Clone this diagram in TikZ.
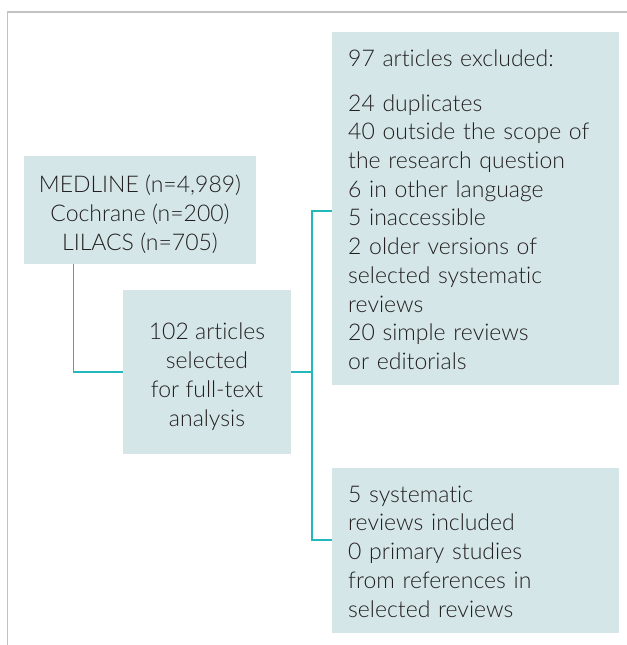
\documentclass[tikz,border=0pt]{standalone}
\usepackage{fontspec}
\setmainfont{Lato}[UprightFont={* Light}, Ligatures=NoCommon]
\usepackage{tikz}
\usetikzlibrary{positioning,calc}
\definecolor{ink}{HTML}{231F20}
\definecolor{tealine}{HTML}{22B8BC}
\definecolor{boxfill}{HTML}{D4E6E8}
\definecolor{framegray}{HTML}{C2C2C2}
\newcommand{\topgap}{\rule{0pt}{22bp}}
\newcommand{\midgap}{\rule{0pt}{26bp}}
\newcommand{\lastgap}{\rule[-4bp]{0pt}{4bp}}

\begin{document}
\begin{tikzpicture}[x=1bp,y=-1bp,
    every node/.style={font=\fontsize{23bp}{28.7bp}\selectfont},
    box/.style={fill=boxfill, text=ink, inner sep=0pt, align=center},
    listbox/.style={fill=boxfill, text=ink, inner xsep=16bp, inner ysep=12bp,
      text width=255bp, align=left, anchor=north west},
    link/.style={draw=tealine, line width=1.2bp},
    frame/.style={draw=framegray, line width=1.3bp}]
  \useasboundingbox (0,0) rectangle (627,645);
  \draw[frame] (627,12) -- (7.5,12) -- (7.5,645);

  \node[box, minimum width=232bp, minimum height=108bp] (sources) at (140,210)
    {\midgap MEDLINE (n=4,989)\\Cochrane (n=200)\\LILACS (n=705)};
  \node[box, minimum width=168bp, minimum height=164bp] (fulltext) at (207,372)
    {\midgap 102 articles\\selected\\for full-text\\analysis};
  \node[listbox] (excluded) at (332,32)
    {\topgap 97 articles excluded:\\[16.25bp]
     24 duplicates\\
     40 outside the scope of\\
     the research question\\
     6 in other language\\
     5 inaccessible\\
     2 older versions of\\
     selected systematic\\
     reviews\\
     20 simple reviews\\
     or editorials\lastgap};
  \node[listbox] (included) at (332,468)
    {\topgap 5 systematic\\
     reviews included\\
     0 primary studies\\
     from references in\\
     selected reviews\lastgap};

  % connectors
  \coordinate (split) at (312,372);
  \draw[link] ($(sources.south west)+(50,0)$) |- (fulltext.west);
  \draw[link] (fulltext.east) -- (split);
  \draw[link] ([yshift=-179bp]excluded.north west) -| (split)
    |- ([yshift=-72bp]included.north west);
\end{tikzpicture}
\end{document}
